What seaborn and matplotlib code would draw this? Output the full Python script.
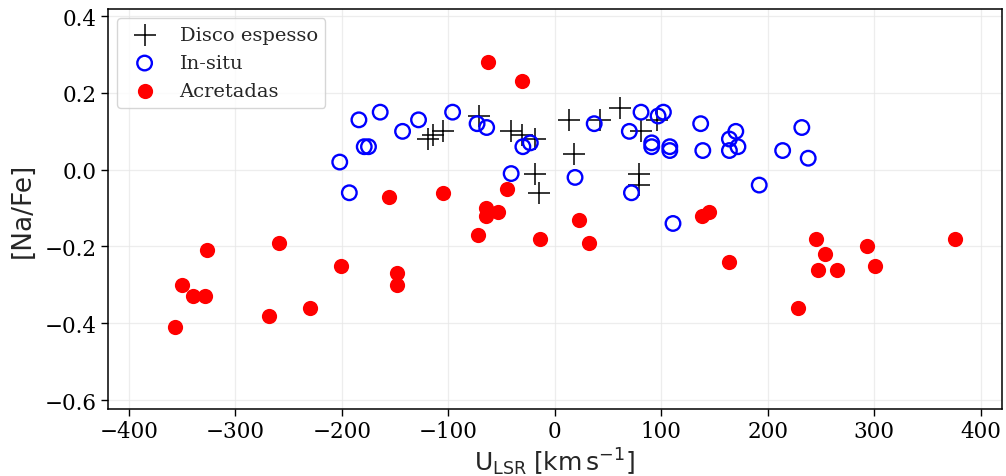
import matplotlib
matplotlib.use("Agg")
import matplotlib.pyplot as plt
import seaborn as sns
import pandas as pd

# Thick disc stars
disco_u = [-119, -114, -105, -71, -41, -31, -19, -19, -15, 13, 18, 42, 61, 81, 96, 79, 79]
disco_na = [0.08, 0.09, 0.10, 0.14, 0.10, 0.09, 0.08, -0.01, -0.06, 0.13, 0.04, 0.13, 0.16, 0.10, 0.13, -0.01, -0.04]

# In-situ halo stars
insitu_u = [-202, -193, -184, -179, -175, -164, -143, -128, -96, -73, -64, -41, -30, -23,
            19, 37, 70, 72, 81, 91, 91, 97, 102, 108, 108, 111, 137, 139, 164, 164,
            170, 172, 192, 214, 232, 238]
insitu_na = [0.02, -0.06, 0.13, 0.06, 0.06, 0.15, 0.10, 0.13, 0.15, 0.12, 0.11, -0.01, 0.06, 0.07,
             -0.02, 0.12, 0.10, -0.06, 0.15, 0.07, 0.06, 0.14, 0.15, 0.06, 0.05, -0.14, 0.12, 0.05, 0.08, 0.05,
             0.10, 0.06, -0.04, 0.05, 0.11, 0.03]

# Accreted halo stars
acret_u = [-357, -350, -340, -329, -327, -268, -259, -230, -201, -148, -148, -156, -105,
           -65, -65, -53, -72, -63, -31, -45, -14, 23, 32, 138, 145, 164, 228, 245,
           254, 247, 265, 293, 301, 376]
acret_na = [-0.41, -0.30, -0.33, -0.33, -0.21, -0.38, -0.19, -0.36, -0.25, -0.27, -0.30, -0.07, -0.06,
            -0.10, -0.12, -0.11, -0.17, 0.28, 0.23, -0.05, -0.18, -0.13, -0.19, -0.12, -0.11, -0.24, -0.36, -0.18,
            -0.22, -0.26, -0.26, -0.20, -0.25, -0.18]

x_ticks = [-400, -300, -200, -100, 0, 100, 200, 300, 400]
y_ticks = [-0.6, -0.4, -0.2, 0.0, 0.2, 0.4]

sns.set_style("white")
plt.rcParams["font.family"] = ["DejaVu Serif"]

df_disco = pd.DataFrame({"U": disco_u, "Na": disco_na})
df_insitu = pd.DataFrame({"U": insitu_u, "Na": insitu_na})
df_acret = pd.DataFrame({"U": acret_u, "Na": acret_na})

fig = plt.figure(figsize=(10.06, 4.77), dpi=100)
ax = fig.add_axes([0.107, 0.140, 0.889, 0.840])

sns.scatterplot(data=df_disco, x="U", y="Na", ax=ax, marker="+", s=260,
                color="black", linewidth=1.1, label="Disco espesso", zorder=3)
sns.scatterplot(data=df_insitu, x="U", y="Na", ax=ax, marker="o", s=110,
                facecolor="none", edgecolor="blue", linewidth=1.7, label="In-situ", zorder=3)
sns.scatterplot(data=df_acret, x="U", y="Na", ax=ax, marker="o", s=120,
                color="red", edgecolor="red", linewidth=0, label="Acretadas", zorder=3)

ax.set_xlim(-420, 420)
ax.set_ylim(-0.624, 0.42)
ax.set_xticks(x_ticks)
ax.set_yticks(y_ticks)
ax.tick_params(axis="both", direction="out", length=5, width=1, labelsize=15.5,
               bottom=True, left=True, colors="black", pad=3)
ax.grid(True, color="#e6e6e6", linewidth=0.9, alpha=0.7)
ax.set_axisbelow(True)
for sp in ax.spines.values():
    sp.set_visible(True)
    sp.set_color("black")
    sp.set_linewidth(1.1)

ax.set_xlabel(r"$\mathrm{U_{LSR}\;[km\,s^{-1}]}$", fontsize=18, family="DejaVu Sans", labelpad=2)
ax.set_ylabel("[Na/Fe]", fontsize=19, family="DejaVu Sans", labelpad=6)

leg = ax.legend(loc="upper left", fontsize=14, frameon=True, borderpad=0.4,
                handletextpad=0.8, labelspacing=0.52, borderaxespad=0.5)
leg.get_frame().set_edgecolor("#cccccc")
leg.get_frame().set_linewidth(1.0)

fig.savefig("out.png", dpi=100)
